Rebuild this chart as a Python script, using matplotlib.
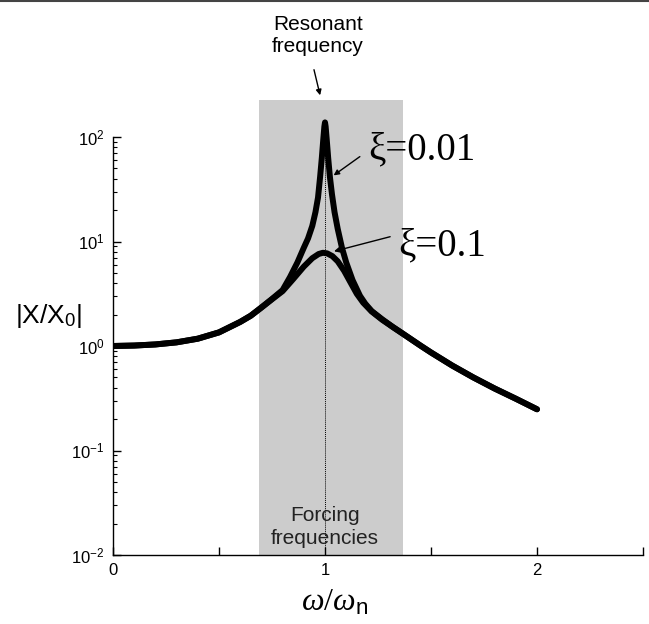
import math
import matplotlib
matplotlib.use("Agg")
import matplotlib.pyplot as plt
from matplotlib.ticker import FixedLocator, FuncFormatter, NullFormatter
from matplotlib.lines import Line2D

plt.rcParams['mathtext.fontset'] = 'custom'
plt.rcParams['mathtext.rm'] = 'Liberation Serif'
plt.rcParams['mathtext.it'] = 'Liberation Serif:italic'
plt.rcParams['mathtext.sf'] = 'Liberation Sans'
plt.rcParams['axes.unicode_minus'] = False

# ---- data ----
r_001 = [0.0, 0.1, 0.2, 0.3, 0.4, 0.5, 0.6, 0.65, 0.7, 0.75, 0.8,
         0.835, 0.87, 0.9, 0.92, 0.94, 0.955, 0.967, 0.977, 0.985, 0.992, 0.997, 1.0,
         1.003, 1.008, 1.015, 1.023, 1.033, 1.045, 1.06, 1.08, 1.10, 1.13, 1.165,
         1.19, 1.22, 1.27, 1.32, 1.37, 1.45, 1.5, 1.6, 1.7, 1.8, 1.9, 2.0]
amp_001 = [1.0, 1.01, 1.035, 1.084, 1.175, 1.35, 1.70, 1.95, 2.34, 2.82, 3.43,
           4.57, 6.31, 8.71, 10.7, 14.1, 19.1, 26.3, 41.7, 63.1, 95.5, 126.0, 138.0,
           126.0, 95.5, 63.1, 41.7, 28.2, 19.1, 13.2, 8.71, 6.31, 4.27, 3.02,
           2.54, 2.16, 1.80, 1.52, 1.30, 1.01, 0.867, 0.65, 0.50, 0.392, 0.313, 0.248]

r_01 = [0.0, 0.1, 0.2, 0.3, 0.4, 0.5, 0.6, 0.65, 0.7, 0.75, 0.8,
        0.85, 0.9, 0.94, 0.97, 0.99, 1.01, 1.035, 1.06, 1.09, 1.12, 1.15, 1.18,
        1.22, 1.27, 1.32, 1.37, 1.45, 1.5, 1.6, 1.7, 1.8, 1.9, 2.0]
amp_01 = [1.0, 1.01, 1.035, 1.084, 1.175, 1.35, 1.70, 1.95, 2.33, 2.80, 3.35,
          4.37, 5.75, 6.92, 7.59, 7.80, 7.70, 7.24, 6.46, 5.25, 4.07, 3.16, 2.60,
          2.14, 1.78, 1.52, 1.30, 1.01, 0.867, 0.65, 0.50, 0.392, 0.313, 0.248]

band = (0.687, 1.37)
resonance = 1.0
x_ticks = [0, 1, 2]
y_major = [1e-2, 1e-1, 1e0, 1e1, 1e2]


def ypx(p):
    """value at a pixel row of the reference layout (10^0 at row 346)"""
    return 10 ** ((346 - p) / 104.5)


fig = plt.figure(figsize=(6.49, 6.24), dpi=100)
ax = fig.add_axes([113/649, 69/624, 530/649, 455/624])
ax.set_yscale('log')
ax.set_xlim(0, 2.5)
ytop = ypx(100)
ax.set_ylim(1e-2, ytop)

ax.axvspan(band[0], band[1], color='#cccccc', lw=0, zorder=0)
ax.plot([resonance, resonance], [1e-2, 130], ls=(0, (1, 1)), color='black', lw=0.7, zorder=1)

ax.plot(r_01, amp_01, color='black', lw=4.3, solid_capstyle='round', solid_joinstyle='round', zorder=3)
ax.plot(r_001, amp_001, color='black', lw=4.3, solid_capstyle='round', solid_joinstyle='round', zorder=3)

for s in ['top', 'right']:
    ax.spines[s].set_visible(False)
ax.spines['left'].set_bounds(1e-2, 1e2)
for s in ['left', 'bottom']:
    ax.spines[s].set_linewidth(1.0)

ax.xaxis.set_major_locator(FixedLocator([0, 0.5, 1, 1.5, 2, 2.5]))
ax.xaxis.set_major_formatter(FuncFormatter(lambda v, p: f'{int(v)}' if v in x_ticks else ''))
ax.yaxis.set_major_locator(FixedLocator(y_major))
ax.yaxis.set_major_formatter(FuncFormatter(
    lambda v, p: r'$\mathsf{10^{%d}}$' % round(math.log10(v))))
minor = [m * 10 ** e for e in range(-2, 2) for m in range(2, 10)]
ax.yaxis.set_minor_locator(FixedLocator(minor))
ax.yaxis.set_minor_formatter(NullFormatter())
ax.tick_params(axis='both', which='major', direction='in', length=6, width=1, labelsize=12)
ax.tick_params(axis='y', which='minor', direction='in', length=3, width=0.8)
ax.tick_params(axis='x', pad=6)
ax.tick_params(axis='y', pad=6)
for lab in ax.get_xticklabels():
    lab.set_fontfamily('Liberation Sans')

# labels
fig.text(48/649, 1 - 316/624, r'|X/X$_{\mathsf{0}}$|', family='Liberation Sans', fontsize=19,
         ha='center', va='center')
fig.text(335/649, 1 - 602/624, r'$\omega/\omega_{\mathsf{n}}$', fontsize=23, ha='center', va='center')

# annotations
ax.annotate('', xy=(0.98, ypx(98)), xytext=(0.945, ypx(67)),
            annotation_clip=False,
            arrowprops=dict(arrowstyle='-|>', color='black', lw=1.0, mutation_scale=8))
fig.text(318/649, 1 - 35/624, 'Resonant\nfrequency', family='Liberation Sans', fontsize=15,
         ha='center', va='center', linespacing=1.2)

ax.annotate('', xy=(1.03, ypx(177)), xytext=(1.175, ypx(155)),
            arrowprops=dict(arrowstyle='-|>', color='black', lw=1.0, mutation_scale=8))
ax.text(1.205, ypx(150), 'ξ=0.01', family='Liberation Serif', fontsize=28,
        ha='left', va='center')
ax.annotate('', xy=(1.03, ypx(252)), xytext=(1.32, ypx(236)),
            arrowprops=dict(arrowstyle='-|>', color='black', lw=1.0, mutation_scale=8))
ax.text(1.345, ypx(246), 'ξ=0.1', family='Liberation Serif', fontsize=28,
        ha='left', va='center')

ax.text(1.0, ypx(527), 'Forcing\nfrequencies', family='Liberation Sans',
        fontsize=15, ha='center', va='center', linespacing=1.25, color='#222222')

fig.add_artist(Line2D([0, 1], [0.998, 0.998], transform=fig.transFigure, color='#444444', lw=1.5))

fig.savefig('out.png', dpi=100)
